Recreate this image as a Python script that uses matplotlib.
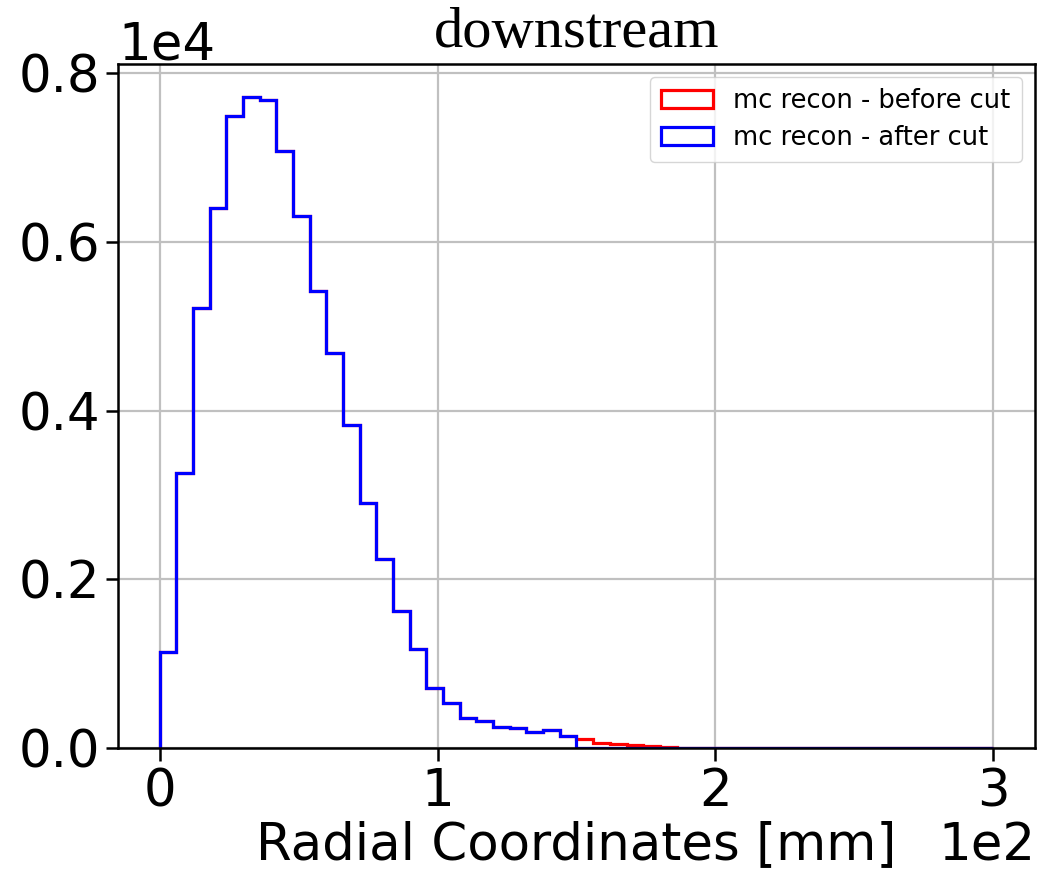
import numpy as np
import matplotlib
matplotlib.use('Agg')
import matplotlib.pyplot as plt
from matplotlib.ticker import ScalarFormatter

# bin edges in mm (6 mm wide bins from 0 to 300)
edges = np.linspace(0, 300, 51)
centers = 0.5 * (edges[:-1] + edges[1:])

# counts per bin, reconstructed radial coordinate before the cut
before_cut = [1134, 3256, 5221, 6404, 7490, 7724, 7688, 7079, 6305, 5416,
              4682, 3825, 2908, 2244, 1622, 1171, 715, 530, 352, 316,
              249, 237, 190, 209, 138, 103, 63, 43, 32, 20,
              15, 0, 0, 0, 0, 0, 0, 0, 0, 0,
              0, 0, 0, 0, 0, 0, 0, 0, 0, 0]

# after the cut: everything beyond 150 mm is removed
after_cut = [1134, 3256, 5221, 6404, 7490, 7724, 7688, 7079, 6305, 5416,
             4682, 3825, 2908, 2244, 1622, 1171, 715, 530, 352, 316,
             249, 237, 190, 209, 138, 0, 0, 0, 0, 0,
             0, 0, 0, 0, 0, 0, 0, 0, 0, 0,
             0, 0, 0, 0, 0, 0, 0, 0, 0, 0]

fig = plt.figure(figsize=(10.42, 8.75), dpi=100)
ax = fig.add_axes([0.1132, 0.1451, 0.8801, 0.7818])

ax.hist(centers, bins=edges, weights=before_cut, histtype='step',
        color='red', linewidth=2.3, label='mc recon - before cut')
ax.hist(centers, bins=edges, weights=after_cut, histtype='step',
        color='blue', linewidth=2.3, label='mc recon - after cut')

ax.grid(True, color='#c0c0c0', linewidth=1.6)
ax.set_axisbelow(True)

xfmt = ScalarFormatter()
xfmt.set_powerlimits((2, 2))
ax.xaxis.set_major_formatter(xfmt)
yfmt = ScalarFormatter()
yfmt.set_powerlimits((4, 4))
ax.yaxis.set_major_formatter(yfmt)
ax.set_yticks([0, 2000, 4000, 6000, 8000])
ax.set_xticks([0, 100, 200, 300])

ax.tick_params(labelsize=37, length=9, width=1.8)
ax.tick_params(axis='x', pad=5)
ax.xaxis.get_offset_text().set_fontsize(37)
ax.yaxis.get_offset_text().set_fontsize(37)
for sp in ax.spines.values():
    sp.set_linewidth(1.8)

ax.set_xlabel('Radial Coordinates [mm]', fontsize=37, labelpad=2)
ax.set_title('downstream', fontsize=42, family='Liberation Serif', pad=12)

ax.legend(loc='upper right', fontsize=18.5, handlelength=2.0,
          borderpad=0.45, labelspacing=0.4)

fig.savefig('out.png', dpi=100)
